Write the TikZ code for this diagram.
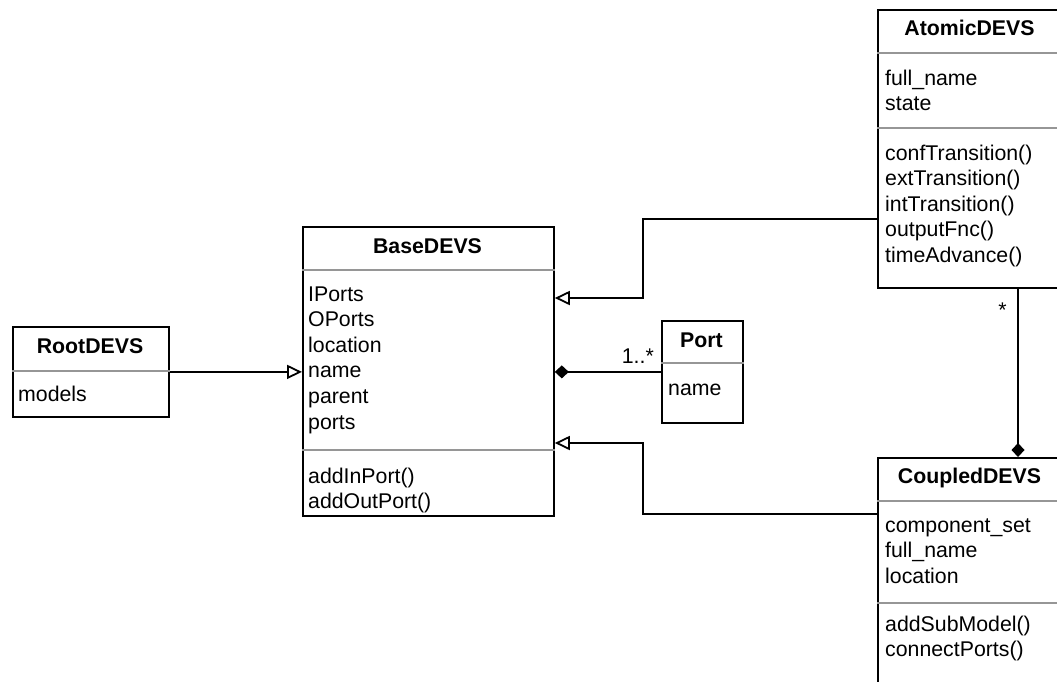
\documentclass[tikz,border=0pt]{standalone}
\usepackage{fontspec}
\setmainfont{Liberation Sans}
\usetikzlibrary{arrows.meta}
\definecolor{divgray}{RGB}{150,150,150}
\begin{document}
\begin{tikzpicture}[x=1pt,y=-1pt,
  cls/.style={draw, line width=1.8pt, fill=white, rectangle, inner sep=0pt, anchor=north west},
  ttl/.style={font=\fontsize{21.3}{25.6}\selectfont\bfseries, anchor=base, inner sep=0pt},
  txt/.style={font=\fontsize{21.3}{25.6}\selectfont, anchor=base west, align=left, inner sep=0pt},
  lbl/.style={font=\fontsize{21.3}{25.6}\selectfont, inner sep=0pt},
  sepline/.style={draw=divgray, line width=1.8pt},
  gen/.style={line width=1.8pt, -{Triangle[open, length=15pt, width=14pt]}},
  comp/.style={line width=1.8pt, {Diamond[length=14pt, width=13pt]}-}]
\useasboundingbox (0,0) rectangle (1057,681);
\clip (0,0) rectangle (1057,681);

% boxes
\node[cls, minimum width=156pt, minimum height=90pt] (root) at (12,326) {};
\node[cls, minimum width=251pt, minimum height=289pt] (base) at (302,226) {};
\node[cls, minimum width=81pt, minimum height=102pt] (port) at (661,320) {};
\node[cls, minimum width=185pt, minimum height=278pt] (atomic) at (877,9) {};
\node[cls, minimum width=185pt, minimum height=260pt] (coupled) at (877,457) {};

% dividers
\draw[sepline] (root.west |- 0,371) -- (root.east |- 0,371);
\draw[sepline] (base.west |- 0,270) -- (base.east |- 0,270);
\draw[sepline] (base.west |- 0,450) -- (base.east |- 0,450);
\draw[sepline] (port.west |- 0,363) -- (port.east |- 0,363);
\draw[sepline] (atomic.west |- 0,53) -- (atomic.east |- 0,53);
\draw[sepline] (atomic.west |- 0,128) -- (atomic.east |- 0,128);
\draw[sepline] (coupled.west |- 0,501) -- (coupled.east |- 0,501);
\draw[sepline] (coupled.west |- 0,603) -- (coupled.east |- 0,603);

% texts (multi-line nodes: base anchor = last line)
\node[ttl] (rootT) at (90,353) {RootDEVS};
\node[txt] (rootA) at (18,401) {models};

\node[ttl] (baseT) at (427.5,253) {BaseDEVS};
\node[txt] (baseA) at (308,429) {IPorts\\OPorts\\location\\name\\parent\\ports};
\node[txt] (baseM) at (308,508.6) {addInPort()\\addOutPort()};

\node[ttl] (portT) at (701.5,347) {Port};
\node[txt] (portA) at (668,395) {name};

\node[ttl] (atomicT) at (969.5,35) {AtomicDEVS};
\node[txt] (atomicA) at (885,110.6) {full\_name\\state};
\node[txt] (atomicM) at (885,262.4) {confTransition()\\extTransition()\\intTransition()\\outputFnc()\\timeAdvance()};

\node[ttl] (coupledT) at (969.5,483) {CoupledDEVS};
\node[txt] (coupledA) at (885,583.2) {component\_set\\full\_name\\location};
\node[txt] (coupledM) at (885,656.6) {addSubModel()\\connectPorts()};

% connectors
\draw[gen] (root.east) -- (base.west |- root.east);
\draw[gen] (atomic.west |- 0,219) -| (643,298) -- (base.east |- 0,298);
\draw[gen] (coupled.west |- 0,514) -| (643,443) -- (base.east |- 0,443);
\draw[comp] (base.east |- port.west) -- (port.west);
\draw[comp] (coupled.north -| 1018,0) -- (atomic.south -| 1018,0);

% multiplicities
\node[lbl, anchor=base east] (m1) at (654,363) {1..*};
\node[lbl, anchor=base] (m2) at (1002.5,317) {*};
\end{tikzpicture}
\end{document}
